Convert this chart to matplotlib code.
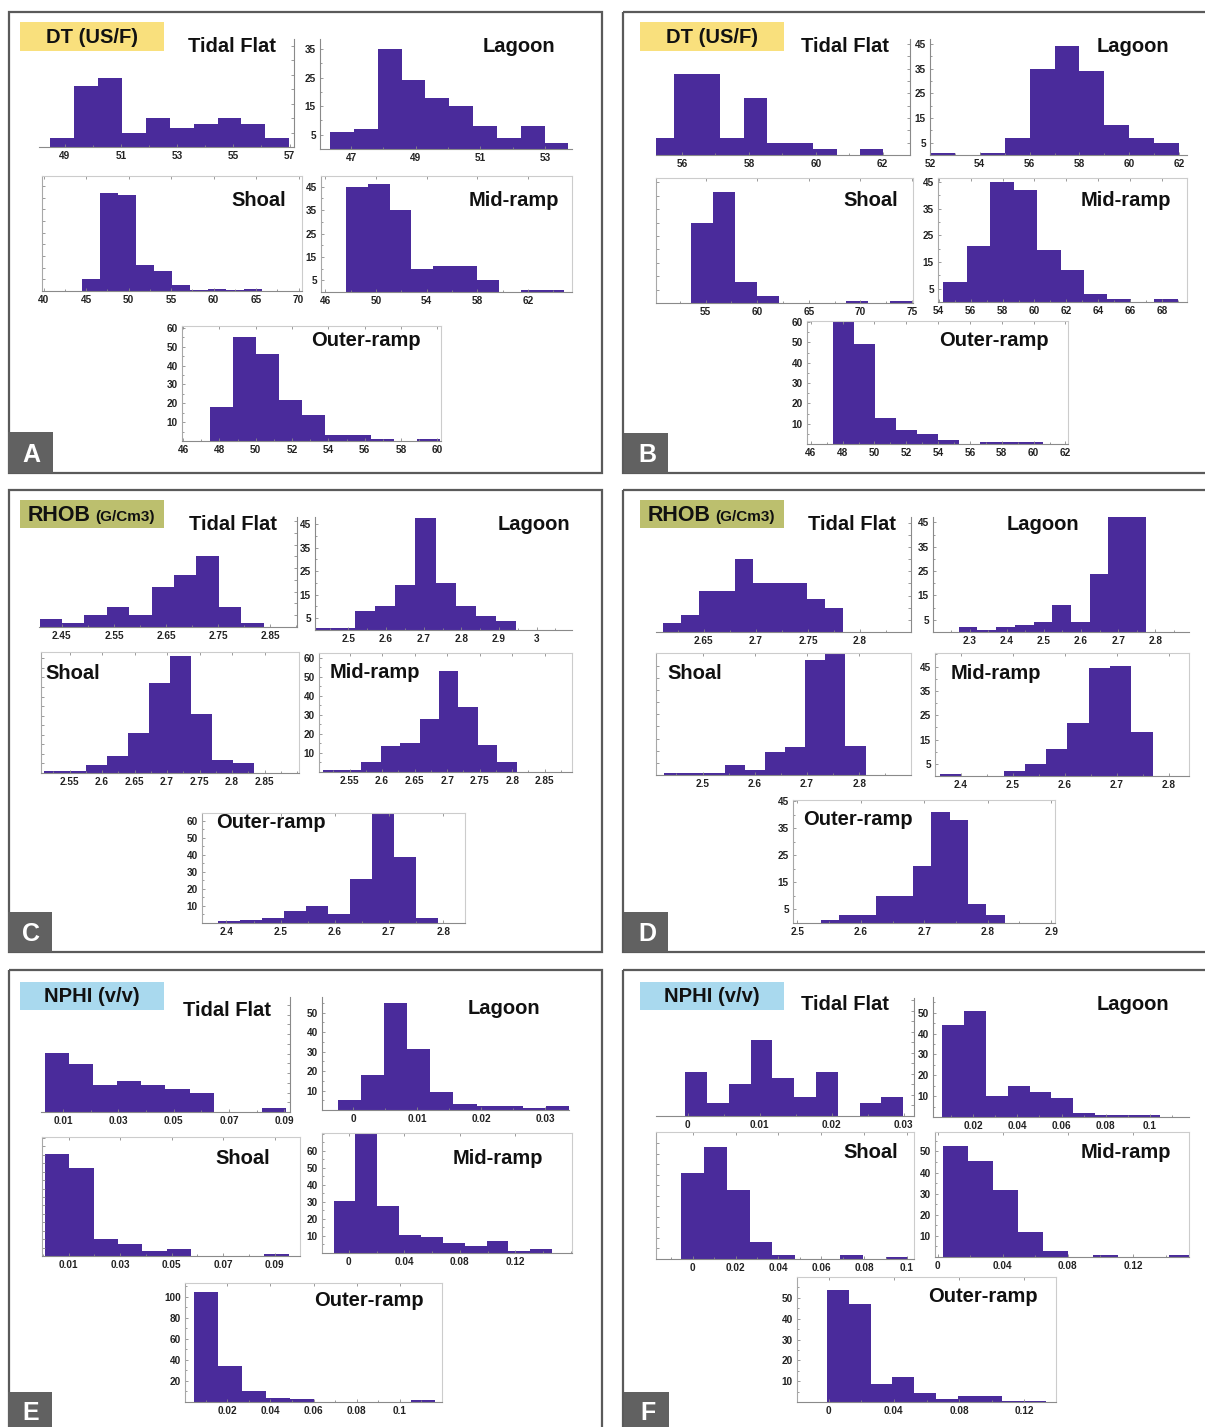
import numpy as np
import matplotlib.pyplot as plt
from matplotlib.patches import Rectangle
from matplotlib.ticker import AutoMinorLocator

W, H = 1205, 1427
plt.rcParams['font.family'] = ['Liberation Sans', 'DejaVu Sans']
plt.rcParams['font.weight'] = 'bold'

BAR = '#4a2b9b'

# ---- histogram counts (10 bins each) and bin ranges ----
# A: DT, well 1
A_TF = [3, 21, 24, 5, 10, 6.5, 8, 10, 8, 3];            A_TF_BINS = (48.49, 56.99)
A_LAG = [6, 7, 35, 24, 18, 15, 8, 4, 8, 2];             A_LAG_BINS = (46.35, 53.73)
A_SHO = [5, 42, 41, 11, 8.5, 2.5, 0.4, 1, 0.4, 1];      A_SHO_BINS = (44.53, 65.69)
A_MID = [45, 46, 35, 10, 11, 11, 5, 0, 1, 1];           A_MID_BINS = (47.63, 64.85)
A_OUT = [18, 55, 46, 22, 14, 3, 3, 1, 0, 1];            A_OUT_BINS = (47.46, 60.17)
# B: DT, well 2
B_TF = [7, 33, 33, 7, 23, 5, 5, 2.5, 0, 2.5];           B_TF_BINS = (55.06, 62.02)
B_LAG = [1, 0, 1, 7, 35, 44, 34, 12, 7, 5];             B_LAG_BINS = (52.0, 62.0)
B_SHO = [30, 41.5, 8, 2.5, 0, 0, 0, 0.7, 0, 0.7];       B_SHO_BINS = (53.55, 75.0)
B_MID = [7.5, 21, 45, 42, 19.5, 12, 3, 1, 0, 1];        B_MID_BINS = (54.28, 68.99)
B_OUT = [60, 49, 13, 7, 5, 2, 0, 1, 1, 1];              B_OUT_BINS = (47.42, 60.58)
# C: RHOB, well 1
C_TF = [3.5, 1.5, 5, 8.5, 5, 17, 22, 30, 8.5, 1.5];     C_TF_BINS = (2.407, 2.837)
C_LAG = [1, 1, 8, 10, 19, 47.5, 20, 10, 6, 4];          C_LAG_BINS = (2.411, 2.945)
C_SHO = [1, 1, 4, 9, 21, 47, 61, 31, 7, 5];             C_SHO_BINS = (2.510, 2.833)
C_MID = [1, 1, 5, 13.5, 15, 28, 53, 34, 14, 5];         C_MID_BINS = (2.5086, 2.807)
C_OUT = [1, 2, 3, 7, 10, 5, 26, 64.5, 38.5, 3];         C_OUT_BINS = (2.384, 2.791)
# D: RHOB, well 2
D_TF = [3.5, 7, 17, 17, 30, 20, 20, 20, 13.5, 10];      D_TF_BINS = (2.6105, 2.7835)
D_LAG = [2, 1, 2, 3, 4, 11, 4, 24, 47, 47];             D_LAG_BINS = (2.270, 2.775)
D_SHO = [1, 1, 1, 4, 2, 9.5, 11.5, 47.5, 50, 12];       D_SHO_BINS = (2.4264, 2.8121)
D_MID = [1, 0, 0, 2, 5, 11, 22, 44.3, 45.2, 18];        D_MID_BINS = (2.3599, 2.7692)
D_OUT = [1, 3, 3, 10, 10, 21, 41, 38, 7, 3];            D_OUT_BINS = (2.5368, 2.827)
# E: NPHI, well 1
E_TF = [30.5, 24.5, 14, 16, 14, 12, 10, 0, 0, 2];       E_TF_BINS = (0.00334, 0.0907)
E_LAG = [5, 18, 55, 31.5, 9, 3, 2, 2, 1, 2];            E_LAG_BINS = (-0.0024, 0.0337)
E_SHO = [60.5, 52, 10, 7, 3, 4, 0, 0, 0, 1];            E_SHO_BINS = (0.00076, 0.0954)
E_MID = [30.5, 70, 27.5, 10.5, 9.5, 6, 4, 7, 1, 2.4];   E_MID_BINS = (-0.01106, 0.1466)
E_OUT = [104, 34.5, 10, 3.5, 2.5, 0, 0, 0, 0, 1.5];     E_OUT_BINS = (0.00446, 0.1163)
# F: NPHI, well 2
F_TF = [21, 6, 15, 36, 18, 9, 21, 0, 6, 9];             F_TF_BINS = (-0.000364, 0.02995)
F_LAG = [44, 51, 10, 15, 12, 9, 2, 1, 1, 1];            F_LAG_BINS = (0.00616, 0.1047)
F_SHO = [41, 53, 32.5, 8, 2, 0, 0, 2, 0, 1];            F_SHO_BINS = (-0.00524, 0.1007)
F_MID = [52.5, 45.5, 31.5, 12, 3, 0, 1, 0, 0, 1];       F_MID_BINS = (0.00344, 0.1572)
F_OUT = [54, 47, 8.5, 12, 4.5, 1.5, 3, 3, 0.6, 0.6];    F_OUT_BINS = (-0.00115, 0.1331)

# tick labels
DT1_X = [[49, 51, 53, 55, 57], [47, 49, 51, 53], [40, 45, 50, 55, 60, 65, 70], [46, 50, 54, 58, 62], list(range(46, 61, 2))]
DT2_X = [[56, 58, 60, 62], list(range(52, 63, 2)), [55, 60, 65, 70, 75], list(range(54, 69, 2)), list(range(46, 63, 2))]
RH1_X = [[2.45, 2.55, 2.65, 2.75, 2.85], [2.5, 2.6, 2.7, 2.8, 2.9, 3], [2.55, 2.6, 2.65, 2.7, 2.75, 2.8, 2.85],
         [2.55, 2.6, 2.65, 2.7, 2.75, 2.8, 2.85], [2.4, 2.5, 2.6, 2.7, 2.8]]
RH2_X = [[2.65, 2.7, 2.75, 2.8], [2.3, 2.4, 2.5, 2.6, 2.7, 2.8], [2.5, 2.6, 2.7, 2.8], [2.4, 2.5, 2.6, 2.7, 2.8],
         [2.5, 2.6, 2.7, 2.8, 2.9]]
NP1_X = [[0.01, 0.03, 0.05, 0.07, 0.09], [0, 0.01, 0.02, 0.03], [0.01, 0.03, 0.05, 0.07, 0.09], [0, 0.04, 0.08, 0.12],
         [0.02, 0.04, 0.06, 0.08, 0.1]]
NP2_X = [[0, 0.01, 0.02, 0.03], [0.02, 0.04, 0.06, 0.08, 0.1], [0, 0.02, 0.04, 0.06, 0.08, 0.1], [0, 0.04, 0.08, 0.12],
         [0, 0.04, 0.08, 0.12]]
Y5 = [5, 15, 25, 35, 45]
Y10 = [10, 20, 30, 40, 50, 60]

NAMES = ['Tidal Flat', 'Lagoon', 'Shoal', 'Mid-ramp', 'Outer-ramp']

fig = plt.figure(figsize=(W / 100, H / 100), dpi=100)


def frac(x0, x1, y0, y1):
    return [x0 / W, 1 - y1 / H, (x1 - x0) / W, (y1 - y0) / H]


def ftext(x, y, s, **kw):
    fig.text(x / W, 1 - y / H, s, **kw)


# panel frames, header boxes, letters
panels = [
    ('A', (9, 602, 12, 473), (20, 164, 22, 51), '#f9e07d', (8, 53, 432, 473)),
    ('B', (623, 1212, 12, 473), (640, 784, 22, 51), '#f9e07d', (624, 668, 433, 473)),
    ('C', (9, 602, 490, 952), (20, 164, 500, 528), '#bcbf6e', (8, 52, 912, 952)),
    ('D', (623, 1212, 490, 952), (640, 784, 500, 528), '#bcbf6e', (624, 668, 912, 952)),
    ('E', (9, 602, 970, 1434), (20, 164, 982, 1010), '#a9d9ee', (8, 52, 1392, 1430)),
    ('F', (623, 1212, 970, 1434), (640, 784, 982, 1010), '#a9d9ee', (624, 669, 1392, 1430)),
]
bg = fig.add_axes([0, 0, 1, 1])
bg.set_xlim(0, W)
bg.set_ylim(H, 0)
bg.axis('off')
for letter, fr, hb, hc, lb in panels:
    bg.add_patch(Rectangle((fr[0], fr[2]), fr[1] - fr[0], fr[3] - fr[2], fill=False, ec='#5a5a5a', lw=1.6))
    bg.add_patch(Rectangle((hb[0], hb[2]), hb[1] - hb[0], hb[3] - hb[2], fc=hc, ec='none'))
    bg.add_patch(Rectangle((lb[0], lb[2]), lb[1] - lb[0], lb[3] - lb[2], fc='#616161', ec='none'))
    bg.text((lb[0] + lb[1]) / 2 + 1, (lb[2] + lb[3]) / 2 + 2, letter, color='white', fontsize=18,
            ha='center', va='center')
    cx, cy = (hb[0] + hb[1]) / 2, (hb[2] + hb[3]) / 2
    if letter in 'AB':
        bg.text(cx, cy + 1, 'DT (US/F)', fontsize=14.5, ha='center', va='center', color='#111')
    elif letter in 'EF':
        bg.text(cx, cy + 1, 'NPHI (v/v)', fontsize=14.5, ha='center', va='center', color='#111')
    else:
        bg.text(hb[0] + 8, hb[3] - 7, 'RHOB', fontsize=15.5, ha='left', va='baseline', color='#111')
        bg.text(hb[0] + 75, hb[3] - 7, '(G/Cm3)', fontsize=11, ha='left', va='baseline', color='#111')

# subplot layout per panel: px box, xlim, ylim top, labelled yticks, title centre
layout = {
    'A': dict(data=[(A_TF, A_TF_BINS), (A_LAG, A_LAG_BINS), (A_SHO, A_SHO_BINS), (A_MID, A_MID_BINS), (A_OUT, A_OUT_BINS)],
              xt=DT1_X, yt=[None, [5, 15, 25, 35], None, Y5, Y10],
              box=[(39, 294, 39, 147), (320, 572, 39, 149), (42, 302, 176, 291), (321, 572, 176, 292), (182, 441, 326, 441)],
              xl=[(48.09, 57.16), (46.04, 53.84), (39.8, 70.4), (45.67, 65.46), (45.94, 60.2)],
              yl=[37.4, 38.5, 49.3, 49.6, 61],
              tp=[(232, 46), (519, 46), (259, 201), (514, 201), (366, 341)]),
    'B': dict(data=[(B_TF, B_TF_BINS), (B_LAG, B_LAG_BINS), (B_SHO, B_SHO_BINS), (B_MID, B_MID_BINS), (B_OUT, B_OUT_BINS)],
              xt=DT2_X, yt=[None, Y5, None, Y5, Y10],
              box=[(656, 910, 39, 155), (930, 1187, 39, 155), (656, 913, 178, 303), (938, 1187, 178, 302), (807, 1068, 321, 444)],
              xl=[(55.22, 62.82), (52.0, 62.32), (50.18, 75.11), (53.95, 69.57), (45.76, 62.16)],
              yl=[47, 47, 46.6, 46.5, 60.5],
              tp=[(845, 46), (1133, 46), (871, 201), (1126, 201), (994, 341)]),
    'C': dict(data=[(C_TF, C_TF_BINS), (C_LAG, C_LAG_BINS), (C_SHO, C_SHO_BINS), (C_MID, C_MID_BINS), (C_OUT, C_OUT_BINS)],
              xt=RH1_X, yt=[None, Y5, None, Y10, Y10],
              box=[(39, 297, 517, 627), (315, 572, 517, 630), (41, 299, 652, 773), (319, 572, 653, 772), (202, 465, 813, 923)],
              xl=[(2.406, 2.901), (2.411, 3.094), (2.506, 2.903), (2.503, 2.892), (2.355, 2.84)],
              yl=[46.8, 48, 63.3, 62.6, 64.5],
              tp=[(233, 524), (534, 524), (73, 673), (375, 672), (271, 822)]),
    'D': dict(data=[(D_TF, D_TF_BINS), (D_LAG, D_LAG_BINS), (D_SHO, D_SHO_BINS), (D_MID, D_MID_BINS), (D_OUT, D_OUT_BINS)],
              xt=RH2_X, yt=[None, Y5, None, Y5, Y5],
              box=[(656, 911, 517, 632), (933, 1189, 517, 632), (656, 911, 653, 775), (935, 1189, 653, 776), (793, 1055, 800, 923)],
              xl=[(2.604, 2.849), (2.201, 2.891), (2.411, 2.899), (2.351, 2.839), (2.493, 2.906)],
              yl=[47.3, 47.2, 50.2, 50.6, 45.5],
              tp=[(852, 524), (1043, 524), (695, 673), (996, 673), (858, 819)]),
    'E': dict(data=[(E_TF, E_TF_BINS), (E_LAG, E_LAG_BINS), (E_SHO, E_SHO_BINS), (E_MID, E_MID_BINS), (E_OUT, E_OUT_BINS)],
              xt=NP1_X, yt=[None, Y10[:5], None, Y10, [20, 40, 60, 80, 100]],
              box=[(41, 290, 997, 1112), (322, 569, 997, 1110), (42, 300, 1137, 1256), (322, 572, 1133, 1253), (185, 442, 1283, 1402)],
              xl=[(0.00196, 0.0921), (-0.00492, 0.03372), (-0.0003, 0.0998), (-0.0194, 0.1609), (0.00036, 0.1196)],
              yl=[59, 58, 70.6, 70.5, 113],
              tp=[(227, 1010), (504, 1008), (243, 1158), (498, 1158), (369, 1300)]),
    'F': dict(data=[(F_TF, F_TF_BINS), (F_LAG, F_LAG_BINS), (F_SHO, F_SHO_BINS), (F_MID, F_MID_BINS), (F_OUT, F_OUT_BINS)],
              xt=NP2_X, yt=[None, Y10[:5], None, Y10[:5], Y10[:5]],
              box=[(656, 914, 998, 1116), (933, 1189, 997, 1117), (656, 914, 1132, 1259), (935, 1189, 1132, 1257), (797, 1056, 1277, 1402)],
              xl=[(-0.00442, 0.03146), (0.00194, 0.1176), (-0.0171, 0.1033), (-0.0016, 0.1544), (-0.0195, 0.1395)],
              yl=[56, 57.5, 60.2, 59.2, 60],
              tp=[(845, 1005), (1133, 1004), (871, 1153), (1126, 1153), (983, 1296)]),
}

for key, lay in layout.items():
    for i in range(5):
        counts, (lo, hi) = lay['data'][i]
        edges = np.linspace(lo, hi, len(counts) + 1)
        ax = fig.add_axes(frac(*lay['box'][i]))
        ax.patch.set_alpha(0)
        ax.stairs(counts, edges, fill=True, color=BAR, lw=0)
        ax.set_xlim(*lay['xl'][i])
        ax.set_ylim(0, lay['yl'][i])
        xt = lay['xt'][i]
        ax.set_xticks(xt)
        ax.set_xticklabels([f'{v:g}' for v in xt])
        ax.xaxis.set_minor_locator(AutoMinorLocator(2))
        yt = lay['yt'][i]
        if yt is not None:
            ax.set_yticks(yt)
            ax.yaxis.set_minor_locator(AutoMinorLocator(2))
        else:
            ax.yaxis.set_major_locator(plt.MultipleLocator(5))
            ax.tick_params(axis='y', labelleft=False, labelright=False)
        ax.tick_params(which='both', direction='in', length=2.5, width=0.6, color='#8a8a8a',
                       labelsize=7.2, labelcolor='#222222', pad=3)
        ax.tick_params(which='minor', length=1.5)
        if i == 0:
            for s in ('left', 'top'):
                ax.spines[s].set_visible(False)
            ax.yaxis.tick_right()
            ax.tick_params(axis='y', labelright=False)
            ax.spines['right'].set_color('#8a8a8a')
        elif i == 1:
            for s in ('right', 'top'):
                ax.spines[s].set_visible(False)
            ax.spines['left'].set_color('#8a8a8a')
        else:
            for s in ('top', 'right'):
                ax.spines[s].set_color('#cccccc')
            ax.spines['left'].set_color('#a8a8a8')
            ax.tick_params(axis='x', top=True)
        ax.spines['bottom'].set_color('#8a8a8a')
        for s in ax.spines.values():
            s.set_linewidth(0.8)
        tx, ty = lay['tp'][i]
        ftext(tx, ty, NAMES[i], fontsize=14.5, ha='center', va='center', color='#111111')

fig.savefig('out.png', dpi=100)
